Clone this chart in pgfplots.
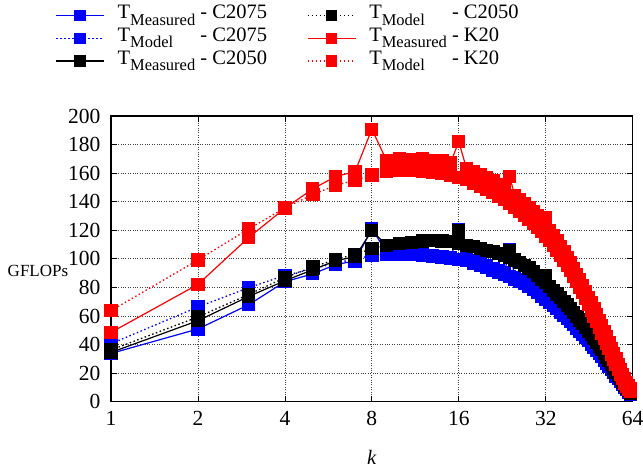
\documentclass[border=0pt]{standalone}
\usepackage{fontspec}
\setmainfont{Liberation Serif}
\usepackage{pgfplots}
\pgfplotsset{compat=1.18}
\usepackage{pgfplotstable}

\newcommand{\Tm}{T\raisebox{-6.5pt}{\fontsize{16.5}{16.5}\selectfont Measured}}
\newcommand{\Td}{T\raisebox{-6.5pt}{\fontsize{16.5}{16.5}\selectfont\makebox[0pt][l]{Model}\hphantom{Measured}}}

\pgfplotstableread{
k M D
1 33.8 40.6
2 50.9 66.3
3 67.9 79.8
4 84.0 88.4
5 89.5 93.0
6 96.0 97.0
7 98.5 100.0
8 121.2 102.2
9 104.5 103.4
10 104.5 103.4
11 104.0 103.2
12 103.3 102.5
13 102.3 101.8
14 101.5 101.2
15 100.8 100.5
16 120.2 99.7
17 100.0 98.7
18 98.5 97.1
19 96.8 95.4
20 95.1 93.7
21 93.4 92.0
22 92.1 90.7
23 90.4 89.0
24 106.3 87.6
25 87.2 85.8
26 85.8 84.4
27 84.3 82.9
28 82.0 80.6
29 79.8 78.4
30 77.6 76.2
31 75.3 73.9
32 73.1 71.7
33 70.8 69.4
34 68.5 67.2
35 66.3 65.0
36 64.0 62.7
37 61.8 60.5
38 59.5 58.2
39 57.2 56.0
40 55.0 53.8
41 52.7 51.5
42 50.5 49.3
43 48.2 47.0
44 46.0 44.8
45 43.7 42.6
46 41.5 40.3
47 39.2 38.1
48 36.9 35.8
49 34.7 33.6
50 32.4 31.4
51 30.1 29.1
52 27.9 26.9
53 25.6 24.6
54 23.4 22.4
55 21.2 20.2
56 18.9 17.9
57 17.4 16.5
58 15.2 14.3
59 13.0 12.2
60 11.0 10.2
61 9.0 8.3
62 7.2 6.6
63 5.5 5.0
}\tblue

\pgfplotstableread{
k M D
1 34.5 36.2
2 56.7 59.3
3 73.7 75.1
4 84.7 86.8
5 92.4 94.3
6 98.7 99.6
7 101.5 103.2
8 119.7 107.0
9 109.4 109.4
10 110.9 110.9
11 111.5 111.5
12 112.5 112.3
13 113.0 112.7
14 112.7 112.5
15 112.0 111.9
16 119.7 111.0
17 109.5 109.5
18 108.6 108.6
19 107.1 107.1
20 106.0 106.0
21 104.9 104.9
22 103.7 103.7
23 102.5 102.5
24 105.5 100.8
25 99.1 99.1
26 97.3 97.3
27 95.5 95.5
28 93.6 93.6
29 91.0 91.0
30 88.4 88.4
31 85.8 85.8
32 88.2 83.2
33 80.6 80.6
34 78.0 78.0
35 75.4 75.4
36 72.8 72.8
37 70.2 70.2
38 67.6 67.6
39 65.0 65.0
40 62.4 62.4
41 59.8 59.8
42 57.2 57.2
43 54.6 54.6
44 52.0 52.0
45 49.4 49.4
46 46.8 46.8
47 44.2 44.2
48 41.6 41.6
49 39.0 39.0
50 36.4 36.4
51 33.8 33.8
52 31.2 31.2
53 28.6 28.6
54 26.0 26.0
55 23.4 23.4
56 20.8 20.8
57 18.4 18.4
58 16.0 16.0
59 13.7 13.7
60 11.5 11.5
61 9.5 9.5
62 7.7 7.7
63 6.1 6.1
}\tblack

\pgfplotstableread{
k M D
1 48.5 63.7
2 82.1 99.2
3 115.0 121.0
4 135.4 135.6
5 149.0 145.0
6 157.7 151.5
7 161.0 155.0
8 190.8 158.7
9 168.7 161.0
10 170.2 161.7
11 169.5 162.2
12 169.9 161.3
13 168.7 160.4
14 168.7 159.9
15 167.6 158.2
16 182.0 157.0
17 163.5 155.5
18 161.2 153.2
19 159.0 151.0
20 157.0 149.0
21 154.5 146.5
22 152.0 144.0
23 149.6 141.6
24 157.5 139.0
25 144.3 136.3
26 141.5 133.5
27 138.7 130.7
28 136.0 128.0
29 133.0 125.0
30 130.0 122.0
31 126.5 119.0
32 129.0 115.9
33 119.7 112.7
34 116.1 109.5
35 112.5 106.0
36 108.9 102.7
37 105.0 99.0
38 101.1 95.4
39 97.2 91.7
40 93.2 88.0
41 89.2 84.2
42 85.2 80.2
43 81.2 76.2
44 77.2 72.2
45 73.2 68.2
46 69.1 64.1
47 65.0 60.0
48 60.9 55.9
49 57.0 52.0
50 53.1 48.1
51 49.2 44.4
52 45.3 40.7
53 41.4 37.0
54 37.5 33.3
55 33.7 29.7
56 29.9 26.1
57 26.2 22.6
58 22.6 19.2
59 19.2 16.0
60 16.1 13.1
61 13.5 10.5
62 11.2 8.4
63 9.5 7.5
}\tred

\begin{document}
\begin{tikzpicture}
\useasboundingbox (-111pt,-69.3pt) rectangle (532pt,401.7pt);
\begin{axis}[
  scale only axis, width=521.7pt, height=285.7pt,
  xmode=log, log basis x=2, xmin=1, xmax=64, ymin=0, ymax=200,
  xtick={1,2,4,8,16,32,64}, xticklabels={1,2,4,8,16,32,64},
  ytick={0,20,...,200},
  grid=major, grid style={dotted, black!75, line width=0.8pt},
  axis line style={line width=1.2pt},
  tick style={black, line width=0.8pt}, major tick length=6pt,
  /pgf/number format/assume math mode=true,
  tick label style={font=\fontsize{21.5}{25}\selectfont},
  xticklabel style={yshift=-6pt},
  yticklabel style={xshift=-7pt},
  xlabel={\textit{k}}, ylabel={GFLOPs},
  every axis y label/.style={at={(axis description cs:-0.140,0.458)},anchor=center,font=\fontsize{17}{20}\selectfont},
  every axis x label/.style={at={(axis description cs:0.5,-0.196)},anchor=center,font=\fontsize{20.5}{24}\selectfont},
  legend cell align=left, legend columns=3, transpose legend,
  legend style={draw=none, fill=none, at={(axis description cs:-0.107,1.392)}, anchor=north west,
    font=\fontsize{20.5}{24}\selectfont, inner sep=0pt, row sep=0pt,
    nodes={inner sep=0pt, text height=14.5pt, text depth=8.2pt},
    /tikz/every odd column/.append style={column sep=13pt},
    /tikz/every even column/.append style={column sep=40pt}},
  legend image code/.code={\draw[mark repeat=2,mark phase=2,#1,mark size=5pt] plot coordinates {(0pt,0pt) (24pt,0pt) (48pt,0pt)};},
]
\addplot[blue, line width=1.2pt, mark=square*, mark size=6pt, mark options={solid}] table[x=k,y=M]{\tblue};
\addlegendentry{\Tm{} - C2075}
\addplot[blue, line width=1.3pt, dash pattern=on 1.5pt off 2.5pt, mark=square*, mark size=6pt, mark options={solid}] table[x=k,y=D]{\tblue};
\addlegendentry{\Td{} - C2075}
\addplot[black, line width=1.2pt, mark=square*, mark size=6pt, mark options={solid}] table[x=k,y=M]{\tblack};
\addlegendentry{\Tm{} - C2050}
\addplot[black, line width=1.3pt, dash pattern=on 1.5pt off 2.5pt, mark=square*, mark size=6pt, mark options={solid}] table[x=k,y=D]{\tblack};
\addlegendentry{\Td{} - C2050}
\addplot[red, line width=1.2pt, mark=square*, mark size=6pt, mark options={solid}] table[x=k,y=M]{\tred};
\addlegendentry{\Tm{} - K20}
\addplot[red, line width=1.3pt, dash pattern=on 1.5pt off 2.5pt, mark=square*, mark size=6pt, mark options={solid}] table[x=k,y=D]{\tred};
\addlegendentry{\Td{} - K20}
\end{axis}
\end{tikzpicture}
\end{document}
